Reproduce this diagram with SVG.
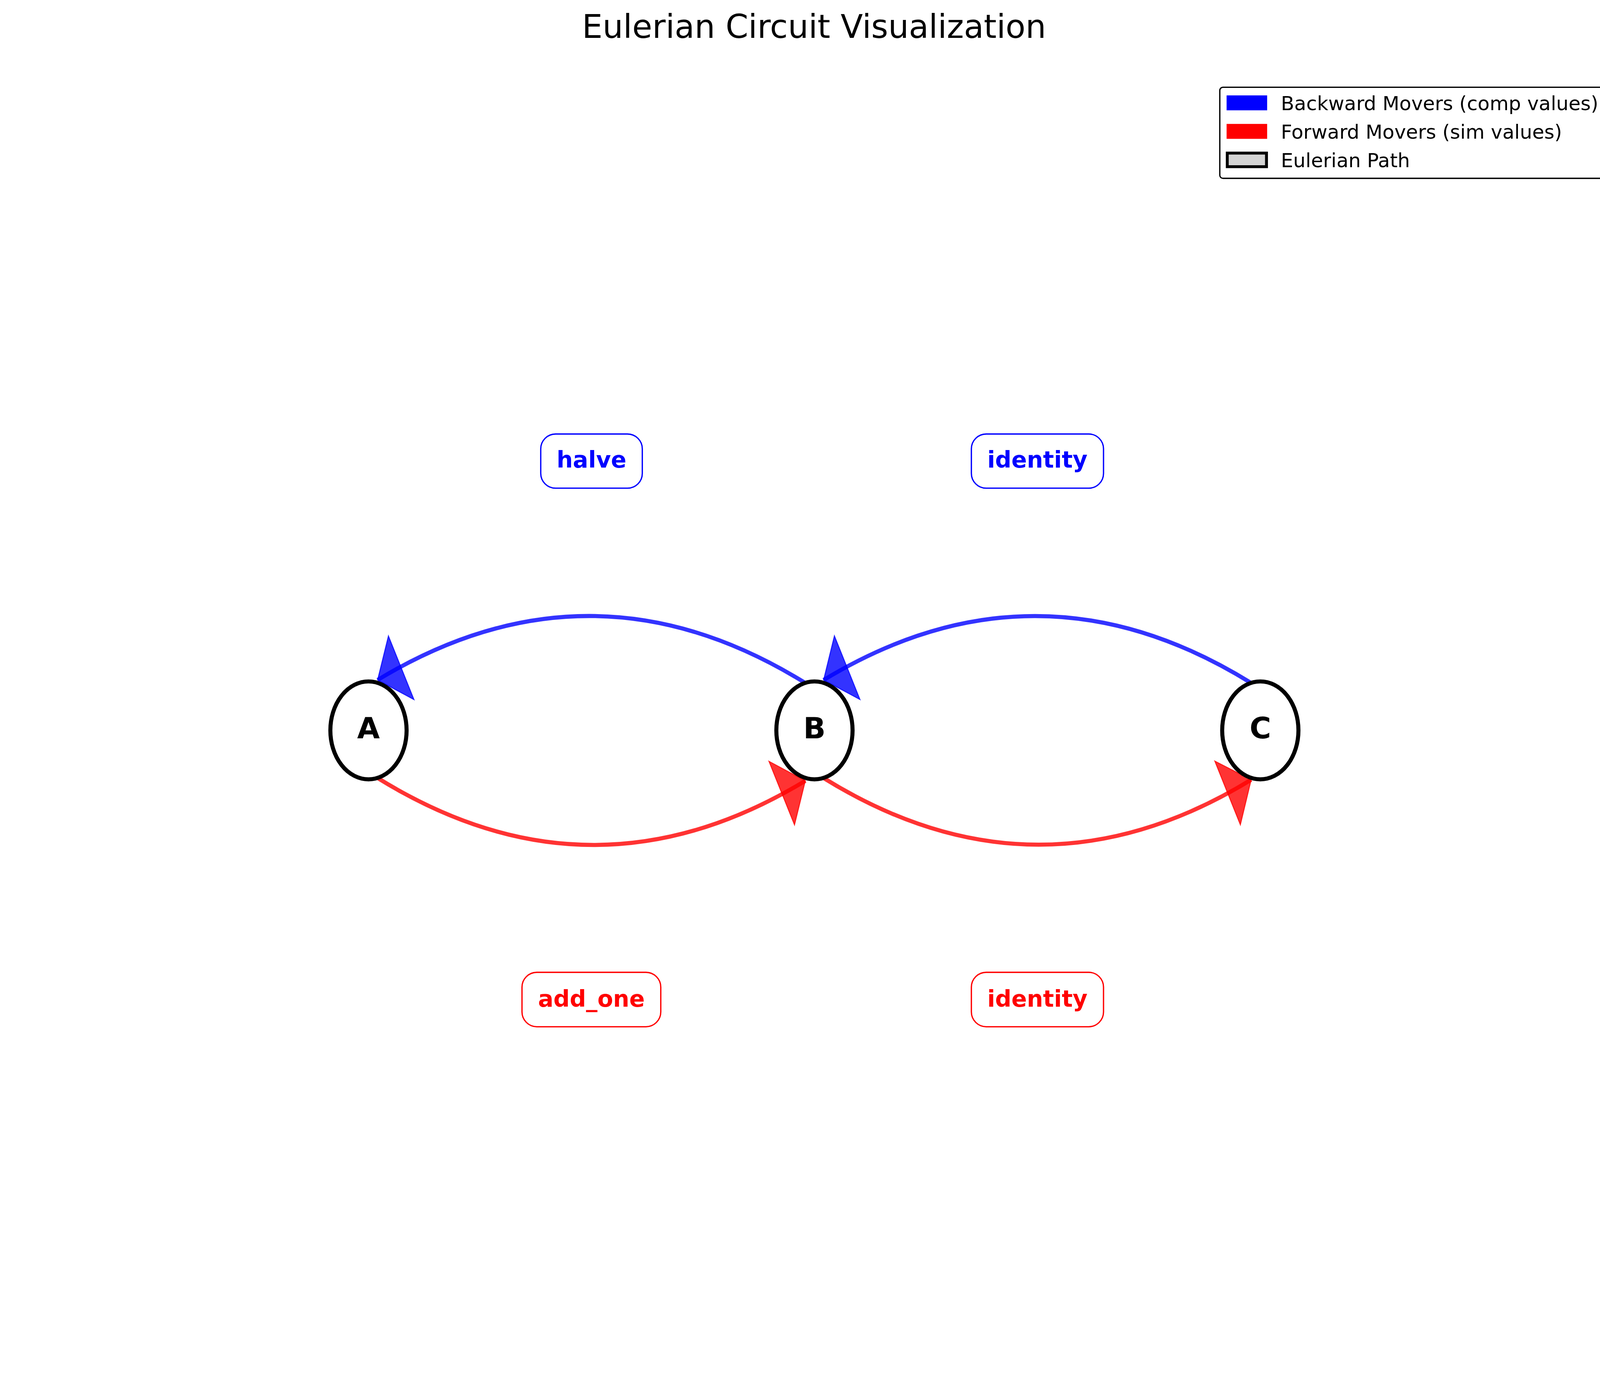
<svg xmlns="http://www.w3.org/2000/svg" width="4170" height="3571" viewBox="0 0 4170 3571">
<style>
  text { font-family: "DejaVu Sans", "Liberation Sans", sans-serif; }
  .title { font-size: 83.3px; fill: #000000; text-anchor: middle; }
  .node ellipse { fill: #ffffff; stroke: #000000; stroke-width: 10.4; }
  .node text { font-size: 75px; font-weight: bold; fill: #000000; text-anchor: middle; }
  .edge { fill: none; stroke-width: 10.4; stroke-opacity: 0.8; }
  .blue { stroke: #0000ff; }
  .red { stroke: #ff0000; }
  .headb { fill: #0000ff; fill-opacity: 0.8; stroke: #0000ff; stroke-opacity: 0.8; stroke-width: 2.5; stroke-linejoin: miter; }
  .headr { fill: #ff0000; fill-opacity: 0.8; stroke: #ff0000; stroke-opacity: 0.8; stroke-width: 2.5; stroke-linejoin: miter; }
  .lbl rect { fill: #ffffff; stroke-width: 3.3; }
  .lbl text { font-size: 58.3px; font-weight: bold; text-anchor: middle; }
  .lblb rect { stroke: #0000ff; }
  .lblb text { fill: #0000ff; }
  .lblr rect { stroke: #ff0000; }
  .lblr text { fill: #ff0000; }
  .legend text { font-size: 50px; fill: #000000; }
</style>
<rect x="0" y="0" width="4170" height="3571" fill="#ffffff"/>
<text class="title" x="2084" y="97">Eulerian Circuit Visualization</text>

<g id="connectors">
  <path class="edge blue" d="M 2061 1748 Q 1514.3 1409.5 966.7 1740.6"/>
  <polygon class="headb" points="966.7,1740.6 994.4,1628 1059.7,1790.8"/>
  <path class="edge blue" d="M 3202.4 1748 Q 2655.7 1409.5 2108.4 1740.7"/>
  <polygon class="headb" points="2108.4,1740.7 2136.1,1627.8 2201.4,1790.5"/>
  <path class="edge red" d="M 967.5 1992 Q 1514.3 2330.5 2061.6 1998.7"/>
  <polygon class="headr" points="2061.6,1998.7 2033.9,2111.4 1968.6,1948.9"/>
  <path class="edge red" d="M 2109 1992 Q 2655.7 2330.5 3203 1996"/>
  <polygon class="headr" points="3203,1996 3175.3,2111.2 3110,1948.5"/>
</g>

<g id="node-A" class="node">
  <ellipse cx="943.3" cy="1869.7" rx="97.6" ry="125.3"/>
  <text x="943.3" y="1890">A</text>
</g>
<g id="node-B" class="node">
  <ellipse cx="2085" cy="1869.7" rx="97.6" ry="125.3"/>
  <text x="2085" y="1890">B</text>
</g>
<g id="node-C" class="node">
  <ellipse cx="3226.4" cy="1869.7" rx="97.6" ry="125.3"/>
  <text x="3226.4" y="1890">C</text>
</g>

<g id="label-halve" class="lbl lblb">
  <rect x="1384.3" y="1111" width="260" height="138.7" rx="38" ry="38"/>
  <text x="1514.3" y="1197">halve</text>
</g>
<g id="label-identity-top" class="lbl lblb">
  <rect x="2486.7" y="1111" width="338.3" height="138.7" rx="38" ry="38"/>
  <text x="2655.8" y="1197">identity</text>
</g>
<g id="label-add-one" class="lbl lblr">
  <rect x="1336.3" y="2489" width="355.3" height="139.3" rx="38" ry="38"/>
  <text x="1514" y="2576.7">add_one</text>
</g>
<g id="label-identity-bottom" class="lbl lblr">
  <rect x="2486.7" y="2489" width="338.3" height="139.3" rx="38" ry="38"/>
  <text x="2655.8" y="2576.7">identity</text>
</g>

<g id="legend" class="legend">
  <rect x="3122.7" y="223.4" width="992.4" height="233.1" rx="8" ry="8" fill="#ffffff" stroke="#000000" stroke-width="3.3"/>
  <rect x="3140.1" y="244.2" width="103.8" height="38.2" fill="#0000ff"/>
  <text x="3279" y="282">Backward Movers (comp values)</text>
  <rect x="3140.1" y="317.2" width="103.8" height="38.2" fill="#ff0000"/>
  <text x="3279" y="355.4">Forward Movers (sim values)</text>
  <rect x="3141.8" y="391.9" width="100.4" height="34.8" fill="#d3d3d3" stroke="#000000" stroke-width="7.4"/>
  <text x="3279" y="428.3">Eulerian Path</text>
</g>
</svg>
